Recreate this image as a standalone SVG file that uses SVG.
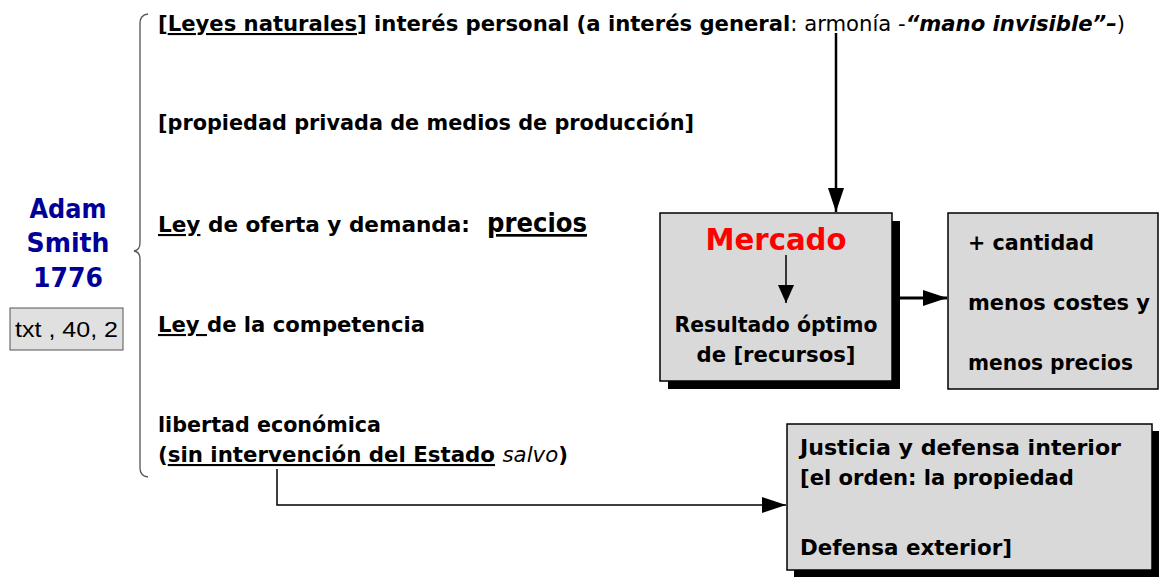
<svg xmlns="http://www.w3.org/2000/svg" width="1161" height="586" viewBox="0 0 1161 586">
<defs>
<style>
.t{font-family:"DejaVu Sans","Liberation Sans",sans-serif;font-weight:bold;font-size:21px;fill:#000}
.r{font-weight:normal}
.bi{font-style:italic}
.u{text-decoration:underline}
.box{fill:#d9d9d9;stroke:#000;stroke-width:1.5}
.sh{fill:#000}
.c{fill:none;stroke:#000}
</style>
<marker id="ah" markerUnits="userSpaceOnUse" markerWidth="24" markerHeight="16" refX="24" refY="8" orient="auto">
<path d="M0,0 L24,8 L0,16 z" fill="#000"/>
</marker>
<marker id="ahs" markerUnits="userSpaceOnUse" markerWidth="18" markerHeight="16" refX="18" refY="8" orient="auto">
<path d="M0,0 L18,8 L0,16 z" fill="#000"/>
</marker>
</defs>
<rect width="1161" height="586" fill="#fff"/>

<g id="brace">
<path d="M148,14 Q140,15 140,23 L140,243 Q140,250 134,251 Q140,252 140,259 L140,468 Q140,476 148,477" fill="none" stroke="#555" stroke-width="1.3"/>
</g>

<g id="author">
<text class="t" x="68" y="218" text-anchor="middle" style="font-size:27px;fill:#000099" textLength="77" lengthAdjust="spacingAndGlyphs">Adam</text>
<text class="t" x="68" y="252" text-anchor="middle" style="font-size:27px;fill:#000099" textLength="83" lengthAdjust="spacingAndGlyphs">Smith</text>
<text class="t" x="68" y="287" text-anchor="middle" style="font-size:27px;fill:#000099" textLength="70" lengthAdjust="spacingAndGlyphs">1776</text>
</g>

<g id="txtbox">
<rect x="10" y="308" width="113" height="42" fill="#e0e0e0" stroke="#555" stroke-width="1"/>
<text x="66.5" y="337" text-anchor="middle" style="font-family:'Liberation Sans',Arial,sans-serif;font-size:22px;fill:#000" textLength="103" lengthAdjust="spacingAndGlyphs">txt , 40, 2</text>
</g>

<g id="line1">
<text class="t" x="158" y="31" textLength="967" lengthAdjust="spacingAndGlyphs">[<tspan class="u">Leyes naturales</tspan>] interés personal (a interés general<tspan class="r">: armonía -</tspan><tspan class="bi">“mano invisible”–</tspan><tspan class="r">)</tspan></text>
</g>
<g id="line2">
<text class="t" x="158" y="130" textLength="536" lengthAdjust="spacingAndGlyphs">[propiedad privada de medios de producción]</text>
</g>
<g id="line3">
<text class="t" x="158" y="232" textLength="312" lengthAdjust="spacingAndGlyphs"><tspan class="u">Ley</tspan> de oferta y demanda:</text>
<text class="t" x="487" y="232" style="font-size:27px" textLength="100" lengthAdjust="spacingAndGlyphs"><tspan class="u">precios</tspan></text>
</g>
<g id="line4">
<text class="t" x="158" y="332" textLength="267" lengthAdjust="spacingAndGlyphs"><tspan class="u">Ley </tspan>de la competencia</text>
</g>
<g id="line5">
<text class="t" x="158" y="432" textLength="223" lengthAdjust="spacingAndGlyphs">libertad económica</text>
<text class="t" x="158" y="462" textLength="410" lengthAdjust="spacingAndGlyphs">(<tspan class="u">sin intervención del Estado</tspan> <tspan class="r bi">salvo</tspan>)</text>
</g>

<g id="mercado">
<rect class="sh" x="668" y="221" width="232" height="168"/>
<rect class="box" x="660" y="213" width="232" height="168"/>
<text class="t" x="776" y="250" text-anchor="middle" style="font-size:31px;fill:#ff0000" textLength="141" lengthAdjust="spacingAndGlyphs">Mercado</text>
<line class="c" x1="786" y1="255" x2="786" y2="303" stroke-width="1.5" marker-end="url(#ahs)"/>
<text class="t" x="776" y="332" text-anchor="middle" textLength="203" lengthAdjust="spacingAndGlyphs">Resultado óptimo</text>
<text class="t" x="776" y="362" text-anchor="middle" textLength="159" lengthAdjust="spacingAndGlyphs">de [recursos]</text>
</g>

<g id="resultados">
<rect class="box" x="948" y="213" width="210" height="176"/>
<text class="t" x="968" y="250" textLength="126" lengthAdjust="spacingAndGlyphs">+ cantidad</text>
<text class="t" x="968" y="310" textLength="182" lengthAdjust="spacingAndGlyphs">menos costes y</text>
<text class="t" x="968" y="370" textLength="165" lengthAdjust="spacingAndGlyphs">menos precios</text>
</g>

<g id="estado">
<rect class="sh" x="794" y="431" width="365" height="146"/>
<rect class="box" x="787" y="424" width="365" height="146"/>
<text class="t" x="800" y="455" textLength="321" lengthAdjust="spacingAndGlyphs">Justicia y defensa interior</text>
<text class="t" x="800" y="485" textLength="274" lengthAdjust="spacingAndGlyphs">[el orden: la propiedad</text>
<text class="t" x="800" y="555" textLength="212" lengthAdjust="spacingAndGlyphs">Defensa exterior]</text>
</g>

<g id="connectors">
<line class="c" x1="836" y1="33" x2="836" y2="212" stroke-width="2.5" marker-end="url(#ah)"/>
<line class="c" x1="900" y1="298" x2="947" y2="298" stroke-width="3" marker-end="url(#ah)"/>
<polyline class="c" points="277,469 277,505 786,505" stroke-width="1.5" marker-end="url(#ah)"/>
</g>
</svg>
